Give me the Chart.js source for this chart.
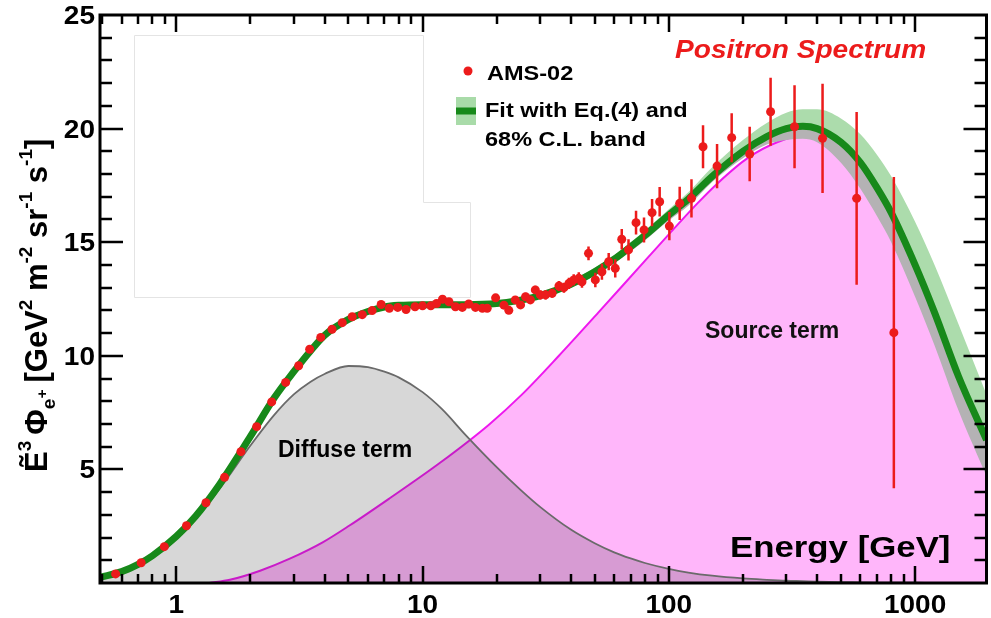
<!DOCTYPE html>
<html>
<head>
<meta charset="utf-8">
<script src="https://cdn.jsdelivr.net/npm/chart.js@4.4.1/dist/chart.umd.min.js"></script>
<style>
  html, body { margin: 0; padding: 0; background: #fff; }
  #wrap { width: 991px; height: 618px; }
</style>
</head>
<body>
<div id="wrap"><canvas id="spectrum" width="991" height="618"></canvas></div>
<script>
// Energies (GeV) of the smooth model curves
const curveE = [0.49, 0.6, 0.7, 0.8, 1.0, 1.2, 1.5, 2, 2.5, 3, 3.5, 4, 5, 6, 7, 8, 10, 12, 15, 20,
  25, 30, 40, 50, 60, 70, 80, 100, 120, 150, 200, 250, 300, 350, 400, 500, 600, 700, 800, 1000,
  1200, 1500, 1950];
// best fit (total) and its 68% C.L. band
const fitFlux = [0.25, 0.5, 0.82, 1.2, 2.05, 2.95, 4.35, 6.45, 8.15, 9.3, 10.2, 10.9, 11.6, 11.95, 12.15, 12.22, 12.25, 12.25, 12.25, 12.3,
  12.45, 12.65, 13.15, 13.7, 14.25, 14.8, 15.3, 16.2, 16.9, 17.9, 19.0, 19.65, 20.0, 20.1, 20.0, 19.4, 18.5, 17.4, 16.3, 14.0,
  11.9, 9.1, 6.3];
const bandUpper = [0.3, 0.55, 0.88, 1.27, 2.12, 3.02, 4.42, 6.52, 8.22, 9.37, 10.27, 10.97, 11.67, 12.02, 12.22, 12.3, 12.33, 12.33, 12.33, 12.38,
  12.55, 12.77, 13.3, 13.87, 14.43, 15.0, 15.52, 16.45, 17.2, 18.3, 19.5, 20.25, 20.7, 20.85, 20.85, 20.45, 19.75, 18.85, 17.9, 15.9,
  14.0, 11.4, 8.3];
const bandLower = [0.2, 0.45, 0.76, 1.13, 1.98, 2.88, 4.28, 6.38, 8.08, 9.23, 10.13, 10.83, 11.53, 11.88, 12.08, 12.14, 12.17, 12.17, 12.17, 12.22,
  12.35, 12.53, 13.0, 13.53, 14.07, 14.6, 15.08, 15.95, 16.6, 17.65, 18.7, 19.3, 19.5, 19.55, 19.4, 18.5, 17.35, 16.15, 15.0, 12.6,
  10.45, 7.6, 4.7];
// diffuse term
const diffuseFlux = [0.25, 0.5, 0.82, 1.2, 2.0, 2.85, 4.15, 6.05, 7.4, 8.3, 8.85, 9.2, 9.55, 9.5, 9.3, 9.05, 8.4, 7.65, 6.5, 5.1,
  4.1, 3.35, 2.35, 1.75, 1.35, 1.08, 0.88, 0.62, 0.46, 0.32, 0.2, 0.14, 0.1, 0.08, 0.06, 0.04, 0.03, 0.02, 0.015, 0.01,
  0.005, 0, 0];
// source term
const sourceE = [1.36, 1.65, 2.19, 2.89, 3.93, 5.05, 7.33, 11.7, 18.6, 25.3, 35.7, 51.8, 82.5, 131.5, 158.4, 209.4, 277, 366, 450, 550,
  650, 800, 1000, 1200, 1500, 1950];
const sourceFlux = [0, 0.14, 0.54, 1.07, 1.79, 2.53, 3.72, 5.27, 6.97, 8.29, 9.99, 11.91, 14.34, 16.74, 17.61, 18.71, 19.41, 19.74, 19.55, 18.5,
  17.2, 15.4, 13.0, 10.9, 8.0, 5.0];

// AMS-02 positron data
const amsE = [0.567, 0.72, 0.894, 1.10, 1.32, 1.57, 1.83, 2.12, 2.44, 2.78, 3.14, 3.48, 3.86, 4.29, 4.72, 5.18, 5.69, 6.24, 6.79, 7.33,
  7.93, 8.57, 9.32, 10.0, 10.8, 11.4, 12.05, 12.8, 13.6, 14.5, 15.4, 16.4, 17.5, 18.3, 19.8, 21.4, 22.4, 23.8, 25.0, 26.2,
  27.4, 28.7, 30.1, 31.6, 33.6, 35.8, 37.5, 39.3, 41.1, 43.1, 44.4, 47.2, 50.3, 53.5, 57.0, 60.6, 64.4, 68.6, 73.6, 79.3,
  85.5, 91.8, 100.5, 110.7, 123.6, 137.7, 157, 180, 213, 259, 324, 421, 579, 820];
const amsFlux = [0.40, 0.89, 1.60, 2.52, 3.53, 4.65, 5.78, 6.88, 7.97, 8.83, 9.56, 10.29, 10.81, 11.17, 11.46, 11.72, 11.81, 11.99, 12.26, 12.09,
  12.13, 12.04, 12.16, 12.2, 12.2, 12.3, 12.49, 12.38, 12.16, 12.13, 12.28, 12.13, 12.09, 12.09, 12.55, 12.23, 12.0, 12.46, 12.24, 12.6,
  12.46, 12.9, 12.68, 12.68, 12.75, 13.07, 13.0, 13.19, 13.34, 13.41, 13.26, 14.51, 13.34, 13.7, 14.14, 13.85, 15.13, 14.66, 15.86, 15.54,
  16.3, 16.78, 15.71, 16.71, 16.93, 19.2, 18.35, 19.6, 18.88, 20.74, 20.08, 19.57, 16.93, 11.02];
const amsErr = [0.05, 0.05, 0.06, 0.07, 0.08, 0.09, 0.1, 0.1, 0.1, 0.1, 0.1, 0.1, 0.1, 0.1, 0.1, 0.1, 0.1, 0.1, 0.1, 0.1,
  0.1, 0.1, 0.1, 0.1, 0.1, 0.1, 0.12, 0.12, 0.12, 0.12, 0.12, 0.12, 0.13, 0.13, 0.15, 0.15, 0.15, 0.15, 0.15, 0.17,
  0.17, 0.18, 0.2, 0.2, 0.2, 0.22, 0.22, 0.25, 0.25, 0.27, 0.27, 0.3, 0.32, 0.35, 0.38, 0.4, 0.45, 0.47, 0.52, 0.55,
  0.6, 0.65, 0.62, 0.73, 0.84, 0.95, 0.97, 1.08, 1.2, 1.5, 1.83, 2.4, 3.8, 6.85];

// axis ticks
const xRange = [0.49, 1950];
const yRange = [0, 25];
const xTickValues = [1, 10, 100, 1000];
const yTickValues = [5, 10, 15, 20, 25];

const RED = '#ec1b1b';
const FIT_GREEN = '#17891a';

function pts(xs, ys) {
  return xs.map((x, i) => ({ x: x, y: ys[i] }));
}

// draw text with a horizontal stretch factor
function drawText(ctx, str, x, y, font, color, align, sx) {
  ctx.save();
  ctx.font = font;
  ctx.fillStyle = color;
  ctx.textBaseline = 'alphabetic';
  ctx.textAlign = 'left';
  const w = ctx.measureText(str).width * sx;
  let x0 = x;
  if (align === 'center') x0 = x - w / 2;
  if (align === 'right') x0 = x - w;
  ctx.translate(x0, y);
  ctx.scale(sx, 1);
  ctx.fillText(str, 0, 0);
  ctx.restore();
  return w;
}

// vertical error bars, drawn right before the AMS points
const errorBars = {
  id: 'errorBars',
  beforeDatasetDraw(chart, args) {
    if (args.index !== 5) return;
    const ctx = chart.ctx, xs = chart.scales.x, ys = chart.scales.y;
    ctx.save();
    ctx.strokeStyle = RED;
    ctx.lineWidth = 2.5;
    ctx.beginPath();
    amsE.forEach((e, i) => {
      const px = xs.getPixelForValue(e);
      ctx.moveTo(px, ys.getPixelForValue(amsFlux[i] - amsErr[i]));
      ctx.lineTo(px, ys.getPixelForValue(amsFlux[i] + amsErr[i]));
    });
    ctx.stroke();
    ctx.restore();
  }
};

// faint frame left over from an inset in the original figure
const insetFrame = {
  id: 'insetFrame',
  beforeDatasetsDraw(chart) {
    const ctx = chart.ctx;
    ctx.save();
    ctx.strokeStyle = '#e4e4e4';
    ctx.lineWidth = 1;
    ctx.beginPath();
    ctx.moveTo(134.5, 35.5);
    ctx.lineTo(423.5, 35.5);
    ctx.lineTo(423.5, 202.5);
    ctx.lineTo(470.5, 202.5);
    ctx.lineTo(470.5, 297.5);
    ctx.lineTo(134.5, 297.5);
    ctx.closePath();
    ctx.stroke();
    ctx.restore();
  }
};

// ROOT style frame: box, inward ticks on all sides, labels and texts
const frame = {
  id: 'frame',
  afterDatasetsDraw(chart) {
    const ctx = chart.ctx, a = chart.chartArea;
    const xs = chart.scales.x, ys = chart.scales.y;
    ctx.save();
    ctx.strokeStyle = '#000';
    ctx.lineWidth = 2.5;
    ctx.lineCap = 'butt';

    ctx.beginPath();
    // x ticks (major and minor), bottom and top
    for (let d = 0.1; d <= 1000; d *= 10) {
      for (let m = 1; m <= 9; m++) {
        const v = d * m;
        if (v < xRange[0] || v > xRange[1]) continue;
        const px = Math.round(xs.getPixelForValue(v));
        const len = m === 1 ? 17 : 9;
        ctx.moveTo(px, a.bottom); ctx.lineTo(px, a.bottom - len);
        ctx.moveTo(px, a.top); ctx.lineTo(px, a.top + len);
      }
    }
    // y ticks, left and right
    for (let v = yRange[0] + 1; v < yRange[1]; v++) {
      const py = Math.round(ys.getPixelForValue(v));
      const len = v % 5 === 0 ? 23 : 12;
      ctx.moveTo(a.left, py); ctx.lineTo(a.left + len, py);
      ctx.moveTo(a.right, py); ctx.lineTo(a.right - len, py);
    }
    ctx.stroke();

    ctx.lineWidth = 3;
    ctx.strokeRect(a.left, a.top, a.right - a.left, a.bottom - a.top);

    // tick labels
    const tickFont = 'bold 25px "Liberation Sans", Arial, sans-serif';
    xTickValues.forEach(v => {
      drawText(ctx, String(v), xs.getPixelForValue(v), a.bottom + 30, tickFont, '#000', 'center', 1.12);
    });
    yTickValues.forEach(v => {
      drawText(ctx, String(v), a.left - 5, ys.getPixelForValue(v) + 9, tickFont, '#000', 'right', 1.12);
    });

    // in-plot texts
    drawText(ctx, 'Energy [GeV]', 730, 557, 'bold 29px "Liberation Sans", Arial, sans-serif', '#000', 'left', 1.2);
    drawText(ctx, 'Diffuse term', 278, 457, 'bold 23px "Liberation Sans", Arial, sans-serif', '#000', 'left', 1.0);
    drawText(ctx, 'Source term', 705, 338, 'bold 23px "Liberation Sans", Arial, sans-serif', '#111', 'left', 1.0);
    drawText(ctx, 'Positron Spectrum', 675, 58, 'italic bold 26px "Liberation Sans", Arial, sans-serif', RED, 'left', 1.08);

    // legend
    ctx.fillStyle = RED;
    ctx.beginPath();
    ctx.arc(468, 71, 4.5, 0, Math.PI * 2);
    ctx.fill();
    ctx.fillStyle = '#a9dba9';
    ctx.fillRect(456, 97, 20, 28);
    ctx.fillStyle = FIT_GREEN;
    ctx.fillRect(456, 107.5, 20, 7);
    const legFont = 'bold 21px "Liberation Sans", Arial, sans-serif';
    drawText(ctx, 'AMS-02', 487, 80, legFont, '#000', 'left', 1.12);
    drawText(ctx, 'Fit with Eq.(4) and', 485, 117, legFont, '#000', 'left', 1.12);
    drawText(ctx, '68% C.L. band', 485, 146, legFont, '#000', 'left', 1.12);

    // rotated y axis title
    ctx.translate(47, 472);
    ctx.rotate(-Math.PI / 2);
    ctx.fillStyle = '#000';
    ctx.textBaseline = 'alphabetic';
    ctx.textAlign = 'left';
    const big = 'bold 31px "Liberation Sans", Arial, sans-serif';
    const small = 'bold 19px "Liberation Sans", Arial, sans-serif';
    let cx = 0;
    const put = (s, font, dy) => {
      ctx.font = font;
      ctx.fillText(s, cx, dy);
      cx += ctx.measureText(s).width;
    };
    put('\u1EBC', big, 0);
    put('3', small, -16);
    cx += 6;
    put('\u03A6', big, 0);
    const subX = cx;
    put('e', small, 8);
    cx = subX + 11;
    put('+', 'bold 15px "Liberation Sans", Arial, sans-serif', 0);
    cx += 7;
    put('[GeV', big, 0);
    put('2', small, -15);
    put(' m', big, 0);
    put('-2', small, -15);
    put(' sr', big, 0);
    put('-1', small, -15);
    put(' s', big, 0);
    put('-1', small, -15);
    put(']', big, 0);
    ctx.restore();
  }
};

const chart = new Chart(document.getElementById('spectrum').getContext('2d'), {
  type: 'line',
  data: {
    datasets: [
      {
        label: 'Source term',
        data: pts(sourceE, sourceFlux),
        borderColor: '#ee18ee',
        borderWidth: 2,
        backgroundColor: '#ffb6fa',
        fill: 'origin',
        pointRadius: 0,
        cubicInterpolationMode: 'monotone',
        order: 6
      },
      {
        label: 'Diffuse term',
        data: pts(curveE, diffuseFlux),
        borderColor: '#6a6a6a',
        borderWidth: 1.8,
        backgroundColor: 'rgba(40, 40, 40, 0.19)',
        fill: 'origin',
        pointRadius: 0,
        cubicInterpolationMode: 'monotone',
        order: 5
      },
      {
        label: 'Fit with Eq.(4)',
        data: pts(curveE, fitFlux),
        borderColor: FIT_GREEN,
        borderWidth: 7,
        fill: false,
        pointRadius: 0,
        cubicInterpolationMode: 'monotone',
        order: 2
      },
      {
        label: 'band low',
        data: pts(curveE, bandLower),
        borderWidth: 0,
        borderColor: 'rgba(0,0,0,0)',
        backgroundColor: '#b4b2b4',
        fill: 2,
        pointRadius: 0,
        cubicInterpolationMode: 'monotone',
        order: 4
      },
      {
        label: 'band high',
        data: pts(curveE, bandUpper),
        borderWidth: 0,
        borderColor: 'rgba(0,0,0,0)',
        backgroundColor: '#acdcac',
        fill: 2,
        pointRadius: 0,
        cubicInterpolationMode: 'monotone',
        order: 3
      },
      {
        label: 'AMS-02',
        data: pts(amsE, amsFlux),
        showLine: false,
        pointRadius: 4.5,
        pointBorderWidth: 0,
        pointBackgroundColor: RED,
        pointBorderColor: RED,
        order: 1
      }
    ]
  },
  options: {
    responsive: false,
    devicePixelRatio: 1,
    animation: false,
    layout: { padding: { left: 100, right: 3, top: 15, bottom: 35 } },
    plugins: {
      legend: { display: false },
      tooltip: { enabled: false }
    },
    scales: {
      x: { type: 'logarithmic', min: xRange[0], max: xRange[1], display: false },
      y: { type: 'linear', min: yRange[0], max: yRange[1], display: false }
    }
  },
  plugins: [insetFrame, errorBars, frame]
});
</script>
</body>
</html>
